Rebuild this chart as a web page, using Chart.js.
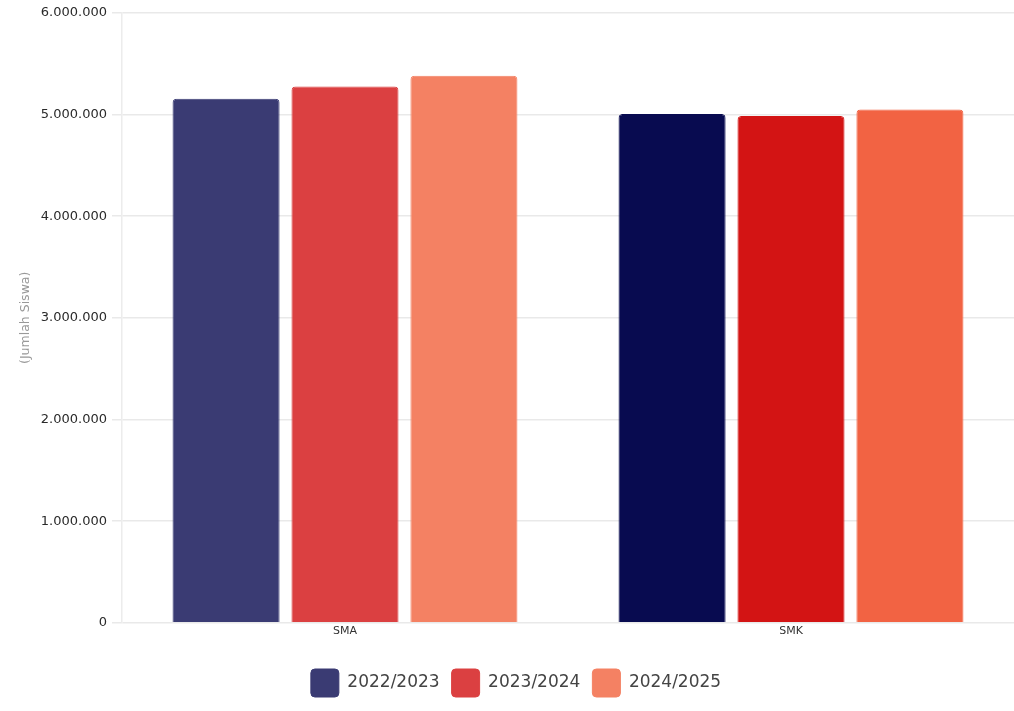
<!DOCTYPE html>
<html>
<head>
<meta charset="utf-8">
<script src="https://cdn.jsdelivr.net/npm/chart.js@4/dist/chart.umd.min.js"></script>
<style>
    html, body { margin: 0; padding: 0; background: #fff; }
    #wrap { width: 1014px; height: 711px; }
</style>
</head>
<body>
<div id="wrap"><canvas id="Chart1"></canvas></div>
<script>
const categories = ['SMA', 'SMK'];
const years = ['2022/2023', '2023/2024', '2024/2025'];
const values2022 = [5155000, 5005000];
const values2023 = [5275000, 4985000];
const values2024 = [5380000, 5050000];
const yTicks = [0, 1000000, 2000000, 3000000, 4000000, 5000000, 6000000];

// SMA bars are the lighter shade, SMK bars the strong one
const colors2022 = ['#3a3b73', '#080b50'];
const colors2023 = ['#db4041', '#d31414'];
const colors2024 = ['#f48163', '#f26343'];

function formatID(v) {
    return v.toString().replace(/\B(?=(\d{3})+(?!\d))/g, '.');
}

const ctx1 = document.getElementById('Chart1').getContext('2d');

new Chart(ctx1, {
    type: 'bar',
    data: {
        labels: categories,
        datasets: [
            { label: years[0], data: values2022, backgroundColor: colors2022, borderColor: colors2022 },
            { label: years[1], data: values2023, backgroundColor: colors2023, borderColor: colors2023 },
            { label: years[2], data: values2024, backgroundColor: colors2024, borderColor: colors2024 }
        ].map(d => Object.assign(d, {
            borderWidth: 1,
            borderRadius: { topLeft: 4, topRight: 4 },
            borderSkipped: 'bottom'
        }))
    },
    options: {
        responsive: true,
        maintainAspectRatio: false,
        animation: false,
        layout: { padding: { top: 6, right: 0, bottom: 4, left: 18 } },
        plugins: {
            tooltip: { enabled: false },
            legend: {
                position: 'bottom',
                labels: {
                    color: '#444',
                    font: { family: 'DejaVu Sans', size: 17 },
                    boxWidth: 28,
                    boxHeight: 28,
                    padding: 12,
                    generateLabels(chart) {
                        return chart.data.datasets.map((d, i) => ({
                            text: d.label,
                            fillStyle: d.backgroundColor[0],
                            strokeStyle: d.backgroundColor[0],
                            lineWidth: 1,
                            borderRadius: 4,
                            fontColor: '#444',
                            datasetIndex: i
                        }));
                    }
                }
            }
        },
        scales: {
            x: {
                grid: { display: false, drawTicks: false },
                border: { display: false },
                afterFit(scale) {
                    // extra room under the labels, before the legend
                    scale.height += 17;
                },
                ticks: {
                    color: '#333',
                    padding: 2,
                    font: { family: 'DejaVu Sans', size: 11 }
                }
            },
            y: {
                min: 0,
                max: 6000000,
                afterBuildTicks(scale) {
                    scale.ticks = yTicks.map(v => ({ value: v }));
                },
                afterFit(scale) {
                    scale.width = 104;
                },
                grid: { color: '#e9e9e9', lineWidth: 1.5, tickLength: 10 },
                border: { display: true, color: '#ececec', width: 1.5 },
                ticks: {
                    color: '#2a2a2a',
                    padding: 5,
                    font: { family: 'DejaVu Sans', size: 13 },
                    callback: v => formatID(v)
                },
                title: {
                    display: true,
                    text: '(Jumlah Siswa)',
                    color: '#999',
                    padding: { top: 0, bottom: 4 },
                    font: { family: 'DejaVu Sans', size: 12.5 }
                }
            }
        }
    }
});
</script>
</body>
</html>
